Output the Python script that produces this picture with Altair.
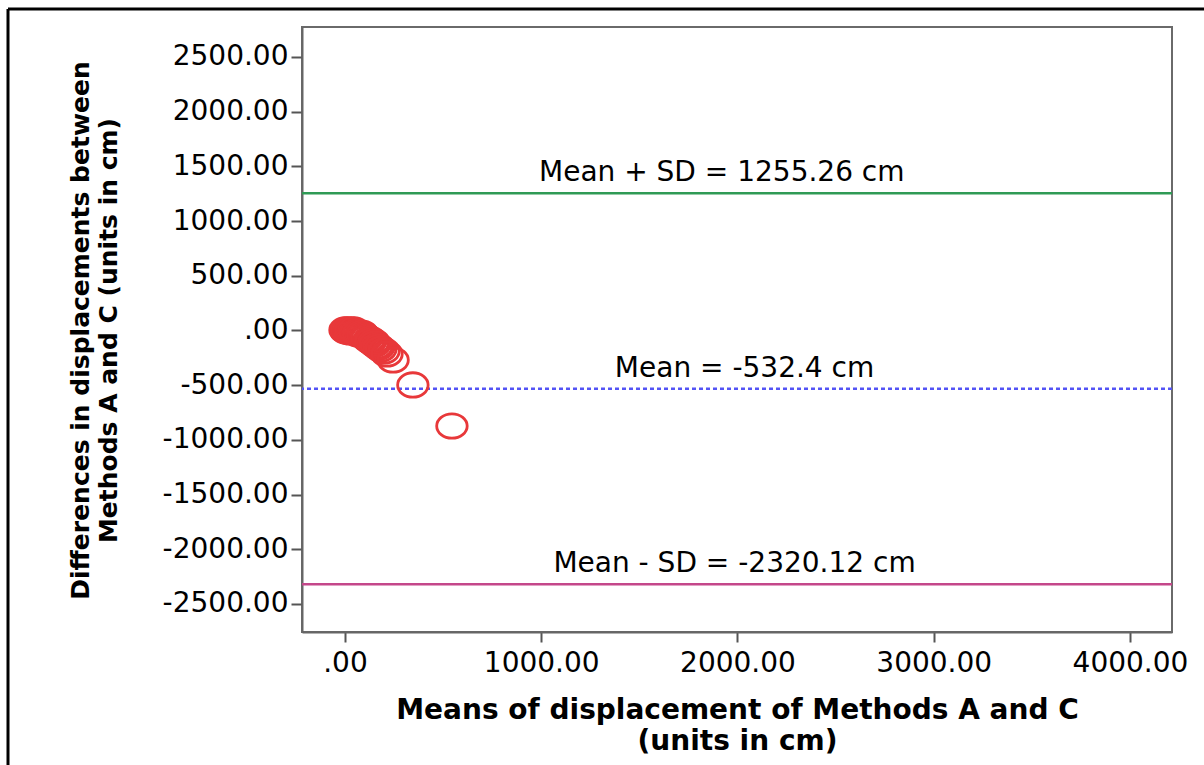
import altair as alt
import pandas as pd

# Bland-Altman style data: mean of the two methods vs. their difference (cm)
mean_ac = [0, 5, 10, 20, 25, 31, 41, 46, 51, 61, 66, 71, 82, 87, 92, 102, 107,
           112, 122, 127, 132, 143, 148, 153, 163, 173, 183, 199, 214, 245, 346, 545]
diff_ac = [5, -5, 5, -5, -14, 5, -5, 5, -14, -14, -32, -23, -32, -23, -41, -50, -59,
           -69, -87, -78, -96, -114, -105, -123, -142, -151, -169, -187, -215, -270, -498, -873]

# Reference lines: mean difference and mean +/- SD
ref_values = [1255.26, -532.4, -2320.12]
ref_labels = ["Mean + SD = 1255.26 cm", "Mean = -532.4 cm", "Mean - SD = -2320.12 cm"]
ref_keys = ["upper", "mean", "lower"]
label_x = [1920, 2036, 1985]

points = pd.DataFrame({"m": mean_ac, "d": diff_ac})
refs = pd.DataFrame({"key": ref_keys, "v": ref_values, "txt": ref_labels, "lx": label_x})
one = pd.DataFrame({"k": [0]})

FONT = "DejaVu Sans"
W, H = 870, 605

x_scale = alt.Scale(domain=[-219, 4214], nice=False, zero=False)
y_scale = alt.Scale(domain=[-2756, 2774], nice=False, zero=False)

x_axis = alt.Axis(
    values=[0, 1000, 2000, 3000, 4000],
    labelExpr="datum.value == 0 ? '.00' : format(datum.value, '.2f')",
    title=["Means of displacement of Methods A and C", "(units in cm)"],
    titleFontSize=28, titleFont=FONT, titleFontWeight="bold", titleColor="black",
    titleLineHeight=31, titleX=435, titleY=64, titleBaseline="top", titleAlign="center",
    labelFontSize=28, labelFont=FONT, labelColor="black", labelPadding=7,
    tickSize=10, tickWidth=2, tickColor="#555555",
    domainColor="#666666", domainWidth=2, grid=False, labelFlush=False,
)
y_axis = alt.Axis(
    values=[-2500, -2000, -1500, -1000, -500, 0, 500, 1000, 1500, 2000, 2500],
    labelExpr="datum.value == 0 ? '.00' : (datum.value < 0 ? '-' : '') + format(abs(datum.value), '.2f')",
    title=["Differences in displacements between", "Methods A and C  (units in cm)"],
    titleFontSize=25, titleFont=FONT, titleFontWeight="bold", titleColor="black",
    titleLineHeight=28, titleAngle=270, titleX=-222, titleY=303,
    titleBaseline="middle", titleAlign="center",
    labelFontSize=28, labelFont=FONT, labelColor="black", labelPadding=3,
    tickSize=11, tickWidth=2, tickColor="#555555",
    domainColor="#666666", domainWidth=2, grid=False,
)

ellipse = ("M -1 0 C -1 -0.442 -0.552 -0.8 0 -0.8 C 0.552 -0.8 1 -0.442 1 0 "
           "C 1 0.442 0.552 0.8 0 0.8 C -0.552 0.8 -1 0.442 -1 0 Z")

scatter = alt.Chart(points).mark_point(
    shape=ellipse, size=930, filled=False, color="#e8383a", strokeWidth=2.8, opacity=1
).encode(
    x=alt.X("m:Q", scale=x_scale, axis=x_axis),
    y=alt.Y("d:Q", scale=y_scale, axis=y_axis),
)

base_ref = alt.Chart(refs)
upper = base_ref.transform_filter("datum.key == 'upper'").mark_rule(
    color="#2f9a55", strokeWidth=2.5).encode(y=alt.Y("v:Q", scale=y_scale))
mean_line = base_ref.transform_filter("datum.key == 'mean'").mark_rule(
    color="#5353f5", strokeWidth=2.5, strokeDash=[4, 3]).encode(y=alt.Y("v:Q", scale=y_scale))
lower = base_ref.transform_filter("datum.key == 'lower'").mark_rule(
    color="#c4478a", strokeWidth=2.5).encode(y=alt.Y("v:Q", scale=y_scale))

labels = base_ref.mark_text(
    font=FONT, fontSize=28, color="black", align="center", baseline="alphabetic", dy=-12
).encode(
    x=alt.X("lx:Q", scale=x_scale),
    y=alt.Y("v:Q", scale=y_scale),
    text="txt:N",
)

# Outer frame (top and left edges)
frame_top = alt.Chart(one).mark_rule(color="black", strokeWidth=3, clip=False).encode(
    x=alt.value(-294), x2=alt.value(1000), y=alt.value(-18))
frame_left = alt.Chart(one).mark_rule(color="black", strokeWidth=3, clip=False).encode(
    x=alt.value(-294), y=alt.value(-18), y2=alt.value(900))

chart = alt.layer(
    upper, mean_line, lower, labels, scatter, frame_top, frame_left
).properties(
    width=W, height=H,
    autosize=alt.AutoSizeParams(type="none"),
    padding={"left": 302, "top": 27, "right": 32, "bottom": 133},
    background="white",
).configure_view(stroke="#6a6a6a", strokeWidth=2)

chart.save("out.html", embed_options={"renderer": "svg", "actions": False})
